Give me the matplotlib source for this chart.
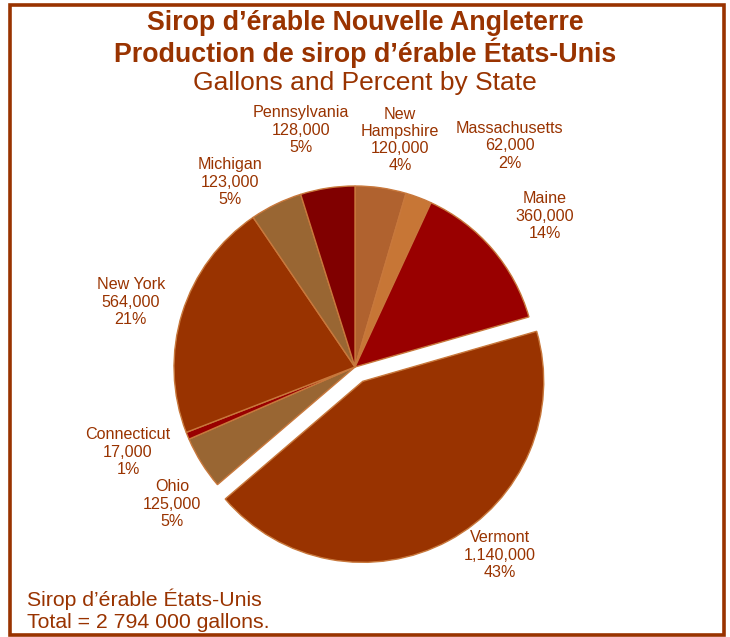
import matplotlib
matplotlib.use("Agg")
import matplotlib.pyplot as plt
from matplotlib.patches import Rectangle

plt.rcParams['font.family'] = ['Liberation Sans', 'DejaVu Sans']

# data, clockwise from 12 o'clock
states = ['New\nHampshire', 'Massachusetts', 'Maine', 'Vermont', 'Ohio',
          'Connecticut', 'New York', 'Michigan', 'Pennsylvania']
gallons = [120000, 62000, 360000, 1140000, 125000, 17000, 564000, 123000, 128000]
percents = [4, 2, 14, 43, 5, 1, 21, 5, 5]
colors = ['#B0622F', '#C77636', '#990000', '#993300', '#996633',
          '#990000', '#993300', '#996633', '#800000']
explode = [0, 0, 0, 0.09, 0, 0, 0, 0, 0]

# label centres, in pie radii from the centre
label_xy = [(0.249, 1.254), (0.856, 1.221), (1.050, 0.834), (0.801, -1.039),
            (-1.011, -0.757), (-1.254, -0.470), (-1.238, 0.359),
            (-0.691, 1.022), (-0.298, 1.309)]

txt = '#993300'

fig = plt.figure(figsize=(7.30, 6.37), dpi=100)
ax = fig.add_axes([0, 0, 1, 1])

ax.pie(gallons, colors=colors, explode=explode, startangle=90,
       counterclock=False, radius=1,
       wedgeprops=dict(edgecolor='#C8783C', linewidth=1.0))

for name, g, p, (lx, ly) in zip(states, gallons, percents, label_xy):
    ax.text(lx, ly, f"{name}\n{g:,}\n{p}%", ha='center', va='center',
            fontsize=11.6, color=txt, linespacing=1.18)

ax.set_xlim(-355 / 181, (730 - 355) / 181)
ax.set_ylim(-(637 - 367) / 181, 367 / 181)
ax.set_aspect('auto')
ax.axis('off')

fig.text(0.5, 1 - 23 / 637, "Sirop d\u2019érable Nouvelle Angleterre", ha='center', va='center',
         fontsize=19.3, fontweight='bold', color=txt)
fig.text(0.5, 1 - 53 / 637, "Production de sirop d\u2019érable États-Unis", ha='center', va='center',
         fontsize=19.3, fontweight='bold', color=txt)
fig.text(0.5, 1 - 83 / 637, "Gallons and Percent by State", ha='center', va='center',
         fontsize=19, color=txt)

fig.text(27 / 730, 1 - 599 / 637, "Sirop d\u2019érable États-Unis", ha='left', va='center',
         fontsize=15.3, color=txt)
fig.text(27 / 730, 1 - 622 / 637, "Total = 2 794 000 gallons.", ha='left', va='center',
         fontsize=15.3, color=txt)

fig.patches.append(Rectangle((9.5 / 730, 2.5 / 637), 714 / 730, 630 / 637,
                             transform=fig.transFigure, fill=False,
                             edgecolor='#993300', linewidth=2.6))

fig.savefig("out.png", dpi=100)
